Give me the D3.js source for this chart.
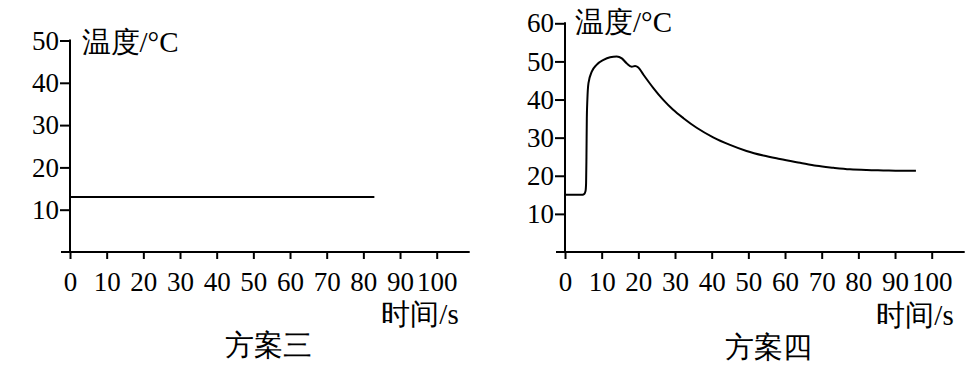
<!DOCTYPE html>
<html>
<head>
<meta charset="utf-8">
<script src="https://cdn.jsdelivr.net/npm/d3@7"></script>
<style>
  html, body { margin: 0; padding: 0; background: #fff; }
  svg { display: block; }
</style>
</head>
<body>
<svg id="chart" width="977" height="371"></svg>
<script>
// ---- data ----
const xTicks = [0, 10, 20, 30, 40, 50, 60, 70, 80, 90, 100];
const yTicksA = [10, 20, 30, 40, 50];
const yTicksB = [10, 20, 30, 40, 50, 60];

// 方案三 : constant temperature
const timeA = [0, 83];
const tempA = [13, 13];

// 方案四 : temperature curve
const timeB = [0, 4.5, 5.2, 5.6, 5.75, 5.85, 5.95, 6.1, 6.4, 7.3, 8.6, 10.5, 12.3, 14.1, 15.5, 16.8, 18.2, 19.1, 20, 21.4, 24.1, 26.8, 29.5, 32.3, 35.9, 40.4, 45, 49.5, 54.1, 58.6, 64.1, 68.6, 73.2, 77.7, 82.3, 86.8, 91.4, 95.7];
const tempB = [15, 15, 15.2, 16, 18, 25, 35, 40, 44.3, 47.3, 49.1, 50.4, 51.1, 51.3, 50.8, 49.5, 48.6, 48.8, 48.4, 46.5, 43.0, 39.9, 37.3, 35.1, 32.6, 30.1, 28.1, 26.5, 25.3, 24.4, 23.4, 22.6, 22.1, 21.7, 21.5, 21.4, 21.3, 21.3];

const yLabel = "温度/°C";
const xLabel = "时间/s";
const titleA = "方案三";
const titleB = "方案四";

// ---- drawing ----
const svg = d3.select("#chart");
const FS = 27;   // tick labels
const LS = 29;   // axis titles / captions
const FONT = '"Liberation Serif", "Times New Roman"';

function drawPanel(cfg) {
  const g = svg.append("g");
  const x = d3.scaleLinear().domain([0, 100]).range([cfg.x0, cfg.x0 + 366.7]);
  const y = d3.scaleLinear().domain([0, cfg.yMax]).range([252, cfg.yTop]);

  // x axis
  const xa = g.append("g").attr("transform", `translate(0,${y(0)})`)
    .call(d3.axisBottom(x).tickValues(xTicks).tickSize(7).tickPadding(13).tickSizeOuter(0));
  xa.select(".domain").remove();
  xa.selectAll(".tick line").attr("stroke", "#000").attr("stroke-width", 2);
  xa.selectAll(".tick text").style("font-family", FONT).style("font-size", FS + "px").attr("fill", "#000");
  g.append("line")
    .attr("x1", x(0) - 9).attr("x2", x(100) + 33)
    .attr("y1", y(0)).attr("y2", y(0))
    .attr("stroke", "#000").attr("stroke-width", 2);

  // y axis
  const ya = g.append("g").attr("transform", `translate(${x(0)},0)`)
    .call(d3.axisLeft(y).tickValues(cfg.yTicks).tickSize(10).tickPadding(1).tickSizeOuter(0));
  ya.select(".domain").remove();
  ya.selectAll(".tick line").attr("stroke", "#000").attr("stroke-width", 2);
  ya.selectAll(".tick text").style("font-family", FONT).style("font-size", FS + "px").attr("fill", "#000");
  g.append("line")
    .attr("x1", x(0)).attr("x2", x(0))
    .attr("y1", y(0)).attr("y2", y(cfg.yMax) - 1)
    .attr("stroke", "#000").attr("stroke-width", 2);

  // data line
  const pts = cfg.time.map((t, i) => [t, cfg.temp[i]]);
  g.append("path")
    .datum(pts)
    .attr("fill", "none")
    .attr("stroke", "#000")
    .attr("stroke-width", 2)
    .attr("stroke-linejoin", "round")
    .attr("d", d3.line().x(d => x(d[0])).y(d => y(d[1])).curve(d3.curveMonotoneX));

  // labels
  const lab = (sel) => sel.style("font-family", FONT).style("font-size", LS + "px").attr("fill", "#000");
  g.append("text").call(lab)
    .attr("x", x(0) + cfg.yLabDx).attr("y", y(cfg.yMax) + cfg.yLabDy).text(yLabel);
  g.append("text").call(lab)
    .attr("text-anchor", "end")
    .attr("x", x(100) + 22).attr("y", cfg.xLabY).text(xLabel);
  g.append("text").call(lab)
    .attr("text-anchor", "middle")
    .attr("x", cfg.titleX).attr("y", cfg.titleY).text(cfg.title);
}

drawPanel({ x0: 70, yMax: 50, yTop: 40.5, yTicks: yTicksA, time: timeA, temp: tempA, title: titleA,
            titleX: 268.5, titleY: 355, xLabY: 324, yLabDx: 11.5, yLabDy: 11.5 });
drawPanel({ x0: 565, yMax: 60, yTop: 23.3, yTicks: yTicksB, time: timeB, temp: tempB, title: titleB,
            titleX: 768, titleY: 357, xLabY: 325, yLabDx: 10, yLabDy: 8.5 });
</script>
</body>
</html>
